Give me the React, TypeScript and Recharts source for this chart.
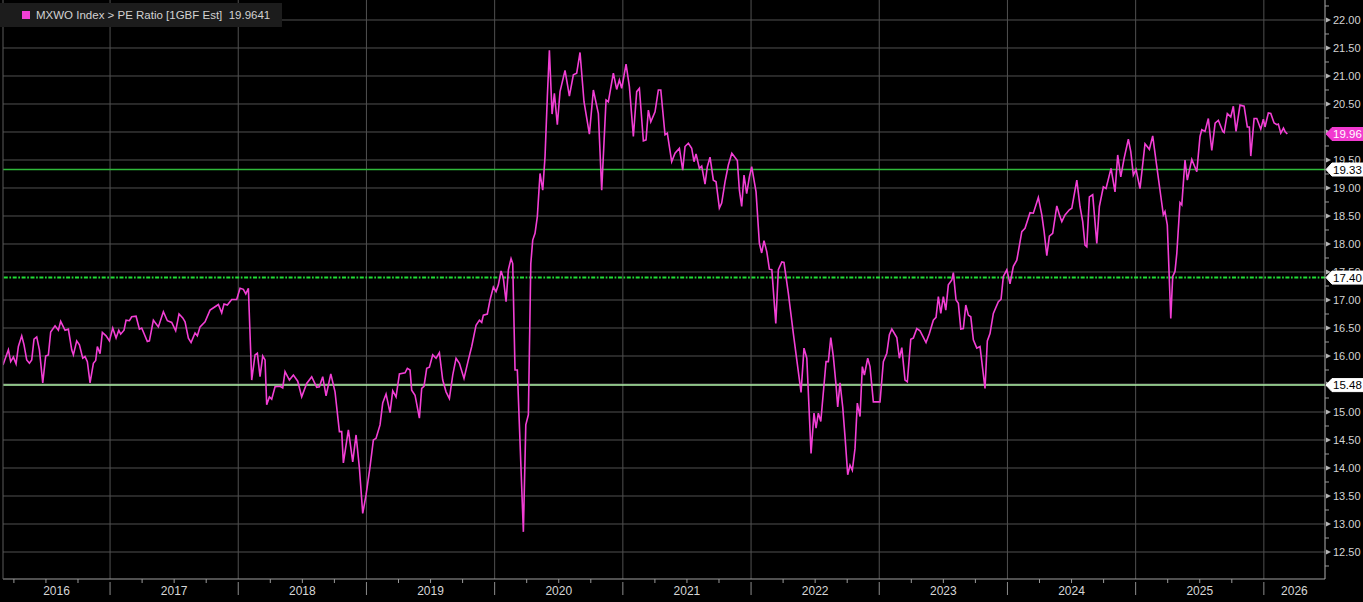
import React from 'react';
import { LineChart, Line, XAxis, YAxis, CartesianGrid, ReferenceLine } from 'recharts';

// ---------- data (decimal year, PE ratio) ----------
const dates2016 = [2016.165,2016.207,2016.225,2016.246,2016.267,2016.285,2016.311,2016.329,2016.350,2016.371,
  2016.389,2016.407,2016.428,2016.449,2016.475,2016.498,2016.519,2016.537,2016.571,2016.597,
  2016.615,2016.649,2016.675,2016.701,2016.714,2016.740,2016.761,2016.787,2016.805,2016.823,
  2016.844,2016.870,2016.888,2016.901,2016.922,2016.940,2016.969,2016.995];
const pe2016 = [15.84,16.11,15.90,15.98,15.86,16.17,16.36,16.20,15.93,15.87,
  15.93,16.30,16.34,16.11,15.52,16.00,16.02,16.43,16.54,16.46,
  16.62,16.46,16.48,16.11,16.02,16.27,16.20,15.96,15.99,15.90,
  15.52,15.87,15.92,16.17,16.04,16.42,16.36,16.27];

const dates2017 = [2017.021,2017.047,2017.068,2017.083,2017.109,2017.125,2017.151,2017.169,2017.203,2017.229,
  2017.247,2017.291,2017.307,2017.338,2017.377,2017.416,2017.447,2017.481,2017.512,2017.538,
  2017.567,2017.585,2017.611,2017.632,2017.663,2017.681,2017.702,2017.741,2017.780,2017.819,
  2017.845,2017.871,2017.889,2017.915,2017.949,2017.988];
const pe2017 = [16.50,16.32,16.46,16.39,16.46,16.64,16.63,16.70,16.71,16.48,
  16.50,16.26,16.27,16.64,16.52,16.79,16.63,16.60,16.45,16.75,
  16.68,16.61,16.32,16.24,16.41,16.36,16.52,16.61,16.82,16.88,
  16.92,16.77,16.93,16.91,17.01,17.01];

const dates2018 = [2018.014,2018.040,2018.059,2018.079,2018.105,2018.131,2018.149,2018.170,2018.191,2018.209,
  2018.222,2018.243,2018.261,2018.287,2018.326,2018.347,2018.365,2018.399,2018.430,2018.464,
  2018.495,2018.534,2018.573,2018.612,2018.633,2018.659,2018.685,2018.722,2018.755,2018.789,
  2018.807,2018.820,2018.859,2018.893,2018.919,2018.945,2018.971,2018.997];
const pe2018 = [17.21,17.19,17.11,17.21,15.57,16.02,16.05,15.63,16.00,15.93,
  15.13,15.27,15.23,15.45,15.46,15.43,15.72,15.57,15.66,15.55,
  15.27,15.51,15.63,15.44,15.45,15.63,15.29,15.68,15.36,14.65,
  14.65,14.09,14.68,14.11,14.59,14.00,13.19,13.52];

const dates2019 = [2019.028,2019.054,2019.075,2019.106,2019.127,2019.153,2019.184,2019.205,2019.231,2019.257,
  2019.301,2019.319,2019.340,2019.353,2019.379,2019.413,2019.431,2019.449,2019.470,2019.491,
  2019.517,2019.543,2019.569,2019.595,2019.621,2019.647,2019.673,2019.699,2019.725,2019.761,
  2019.795,2019.821,2019.855,2019.881,2019.899,2019.912,2019.943,2019.964,2019.990];
const pe2019 = [14.02,14.50,14.53,14.77,15.16,15.32,14.99,15.38,15.27,15.68,
  15.70,15.78,15.75,15.39,15.30,14.89,15.42,15.46,15.78,15.80,
  16.02,15.96,16.06,15.57,15.36,15.24,15.66,15.96,15.87,15.60,
  15.93,16.17,16.55,16.64,16.60,16.73,16.75,17.00,17.23];

const dates2020 = [2020.011,2020.029,2020.050,2020.068,2020.089,2020.107,2020.128,2020.141,2020.159,2020.177,
  2020.224,2020.243,2020.263,2020.282,2020.297,2020.315,2020.333,2020.354,2020.375,2020.393,
  2020.411,2020.427,2020.448,2020.466,2020.489,2020.510,2020.549,2020.583,2020.614,2020.640,
  2020.666,2020.697,2020.739,2020.770,2020.809,2020.835,2020.869,2020.887,2020.926,2020.952,
  2020.973,2020.991];
const pe2020 = [17.15,17.27,17.52,17.39,16.97,17.54,17.74,17.65,15.75,15.75,
  12.86,14.77,14.95,17.65,18.07,18.19,18.49,19.26,18.96,19.56,
  20.63,21.46,20.32,20.69,20.13,20.72,21.10,20.64,21.02,21.05,
  21.42,20.54,19.96,20.75,20.33,18.96,20.57,20.54,21.05,20.76,
  20.93,20.78];

const dates2021 = [2021.025,2021.051,2021.082,2021.108,2021.129,2021.160,2021.181,2021.199,2021.218,2021.251,
  2021.277,2021.296,2021.329,2021.347,2021.381,2021.407,2021.441,2021.467,2021.485,2021.511,
  2021.537,2021.555,2021.571,2021.597,2021.615,2021.641,2021.659,2021.680,2021.706,2021.727,
  2021.753,2021.771,2021.797,2021.823,2021.850,2021.893,2021.909,2021.927,2021.945,2021.966,
  2021.987];
const pe2021 = [21.21,20.81,19.92,20.72,20.78,19.84,19.86,20.39,20.18,20.36,
  20.75,20.75,19.95,19.98,19.47,19.62,19.71,19.32,19.74,19.80,
  19.71,19.47,19.61,19.35,19.39,19.07,19.38,19.55,19.14,19.11,
  18.64,18.73,19.11,19.41,19.62,19.49,18.96,18.67,19.23,18.90,
  19.20];

const dates2022 = [2022.005,2022.039,2022.065,2022.083,2022.101,2022.123,2022.143,2022.162,2022.193,2022.213,
  2022.240,2022.257,2022.291,2022.330,2022.390,2022.413,2022.435,2022.468,2022.491,2022.507,
  2022.525,2022.544,2022.585,2022.603,2022.622,2022.642,2022.663,2022.676,2022.694,2022.715,
  2022.733,2022.754,2022.772,2022.790,2022.811,2022.829,2022.850,2022.868,2022.884,2022.910,
  2022.928,2022.954];
const pe2022 = [19.38,18.93,18.01,17.84,18.06,17.86,17.55,17.54,16.58,17.54,
  17.68,17.67,17.12,16.40,15.35,16.14,15.96,14.26,14.98,14.71,
  14.98,14.83,15.90,15.90,16.33,15.99,15.48,15.09,15.52,15.09,
  14.56,13.88,14.05,13.96,14.35,15.16,14.92,15.81,15.66,15.96,
  15.81,15.18];

const dates2023 = [2023.006,2023.032,2023.059,2023.079,2023.098,2023.137,2023.157,2023.176,2023.201,2023.219,
  2023.246,2023.266,2023.293,2023.318,2023.365,2023.391,2023.422,2023.443,2023.461,2023.480,
  2023.500,2023.519,2023.539,2023.566,2023.578,2023.599,2023.617,2023.636,2023.656,2023.675,
  2023.695,2023.714,2023.734,2023.761,2023.786,2023.825,2023.843,2023.864,2023.890,2023.929,
  2023.950,2023.968,2023.995];
const pe2023 = [15.18,15.90,16.05,16.38,16.48,16.33,15.96,16.15,15.57,15.54,
  16.30,16.32,16.49,16.45,16.24,16.40,16.64,16.69,17.06,16.76,
  17.06,16.82,17.27,17.36,17.49,17.00,16.94,16.48,16.49,16.91,
  16.73,16.70,16.29,16.14,16.17,15.42,16.27,16.40,16.76,16.97,
  17.01,17.42,17.54];

const dates2024 = [2024.020,2024.046,2024.073,2024.112,2024.137,2024.176,2024.202,2024.241,2024.268,2024.286,
  2024.307,2024.327,2024.353,2024.385,2024.405,2024.424,2024.449,2024.483,2024.502,2024.541,
  2024.566,2024.587,2024.605,2024.619,2024.639,2024.665,2024.697,2024.717,2024.748,2024.769,
  2024.808,2024.839,2024.860,2024.884,2024.910,2024.943,2024.962,2024.982];
const pe2024 = [17.29,17.60,17.71,18.22,18.28,18.56,18.55,18.83,18.52,18.22,
  17.79,18.14,18.19,18.68,18.52,18.40,18.52,18.61,18.64,19.14,
  18.67,18.40,17.98,17.95,18.84,18.88,18.01,18.67,19.02,18.99,
  19.35,18.93,19.59,19.20,19.53,19.87,19.65,19.23];

const dates2025 = [2025.003,2025.034,2025.073,2025.107,2025.133,2025.165,2025.190,2025.216,2025.229,2025.247,
  2025.274,2025.289,2025.307,2025.321,2025.346,2025.360,2025.385,2025.403,2025.438,2025.477,
  2025.502,2025.516,2025.541,2025.567,2025.594,2025.620,2025.645,2025.680,2025.690,2025.715,
  2025.742,2025.762,2025.783,2025.814,2025.846,2025.871,2025.887,2025.898,2025.924,2025.945,
  2025.976,2025.996];
const pe2025 = [19.33,18.99,19.79,19.69,19.93,19.38,18.96,18.52,18.58,18.34,
  16.67,17.42,17.51,17.83,18.74,18.70,19.50,19.14,19.51,19.29,
  19.92,20.04,20.01,20.24,19.67,20.16,20.21,20.01,19.99,20.33,
  20.27,20.46,20.01,20.48,20.46,20.09,20.09,19.57,20.24,20.24,
  20.05,20.23];

const dates2026 = [2026.009,2026.035,2026.054,2026.080,2026.101,2026.113,2026.132,2026.153,2026.165,2026.183];
const pe2026 = [20.09,20.34,20.33,20.16,20.13,20.14,19.98,20.07,20.01,19.9641];

// ---------- axes / labels ----------
const seriesName = 'MXWO Index > PE Ratio [1GBF Est]';
const yearLabels = ['2016','2017','2018','2019','2020','2021','2022','2023','2024','2025','2026'];
const yearBoundaries = [2017,2018,2019,2020,2021,2022,2023,2024,2025,2026];
const yMajorTicks = [12.5,13,13.5,14,14.5,15,15.5,16,16.5,17,17.5,18,18.5,19,19.5,20,20.5,21,21.5,22];
const referenceLevels = [19.33, 17.40, 15.48];

const X_DOMAIN: [number, number] = [2016.165, 2026.477];
const Y_DOMAIN: [number, number] = [12.018, 22.357];

const allDates = [...dates2016,...dates2017,...dates2018,...dates2019,...dates2020,...dates2021,...dates2022,...dates2023,...dates2024,...dates2025,...dates2026];
const allPe = [...pe2016,...pe2017,...pe2018,...pe2019,...pe2020,...pe2021,...pe2022,...pe2023,...pe2024,...pe2025,...pe2026];
const data = allDates.map((t, i) => ({ t, pe: allPe[i] }));
const lastValue = allPe[allPe.length - 1];

const firstYear = 2016;
const quarterTicks: number[] = [];
for (let yr = firstYear; yr < 2026; yr++) { quarterTicks.push(yr + 0.25, yr + 0.5, yr + 0.75); }
const firstLabelPos = (X_DOMAIN[0] + yearBoundaries[0]) / 2;
const lastLabelPos = (yearBoundaries[yearBoundaries.length - 1] + X_DOMAIN[1]) / 2;
const xTicks = [...quarterTicks, ...yearBoundaries, firstLabelPos, lastLabelPos].sort((a, b) => a - b);
const yMinorTicks = [...yMajorTicks.map(v => v - 0.25), 22.25];
// tags are appended last so they are painted over the regular tick labels
const tagValues = [...referenceLevels, lastValue];
const yTicks = [...[...yMinorTicks, ...yMajorTicks].sort((a, b) => a - b), ...tagValues];

const FONT = '"Liberation Sans", Arial, sans-serif';
const LINE_COLOR = '#f23fd4';
const TAG_MAGENTA = '#f23ad0';
const GRID = '#505050';

const XTick = (props: any) => {
  const { x, y, payload } = props;
  const v: number = payload.value;
  const frac = v - Math.floor(v);
  const isYear = Math.abs(frac) < 1e-6;
  if (isYear) return <line x1={x} y1={y + 3} x2={x} y2={y + 16} stroke="#8c8c8c" strokeWidth={1} />;
  const isQuarter = [0.25, 0.5, 0.75].some(q => Math.abs(frac - q) < 1e-6);
  const yr = Math.floor(v);
  const showLabel = !isQuarter || (Math.abs(frac - 0.5) < 1e-6 && yr > firstYear);
  return (
    <g>
      {isQuarter && <line x1={x} y1={y} x2={x} y2={y + 4} stroke="#9a9a9a" strokeWidth={1} />}
      {showLabel && (
        <text x={x} y={y + 16} textAnchor="middle" fontSize={12} fontFamily={FONT} fill="#d6d6d6">
          {yearLabels[yr - firstYear]}
        </text>
      )}
    </g>
  );
};

const YTick = (props: any) => {
  const { x, y, payload, index } = props;
  const v: number = payload.value;
  const tagIdx = index >= yTicks.length - tagValues.length ? index - (yTicks.length - tagValues.length) : -1;
  if (tagIdx >= 0) {
    const isLast = tagIdx === tagValues.length - 1;
    const fill = isLast ? TAG_MAGENTA : '#ffffff';
    const color = isLast ? '#ffffff' : '#000000';
    return (
      <g>
        <path
          d={`M${x + 1},${y} L${x + 7},${y - 6.5} L${x + 38},${y - 6.5} L${x + 38},${y + 6.5} L${x + 7},${y + 6.5} Z`}
          fill={fill}
          stroke={fill}
          strokeLinejoin="round"
        />
        <text x={x + 8} y={y + 4} fontSize={11.5} fontFamily={FONT} fill={color}>{v.toFixed(2)}</text>
      </g>
    );
  }
  const major = Math.abs(v * 2 - Math.round(v * 2)) < 1e-6;
  if (!major) return <line x1={x} y1={y} x2={x + 4} y2={y} stroke="#9a9a9a" strokeWidth={1} />;
  return (
    <g>
      <path d={`M${x + 1},${y - 2.5} L${x + 6},${y} L${x + 1},${y + 2.5} Z`} fill="#b5b5b5" />
      <text x={x + 8} y={y + 4} fontSize={11} fontFamily={FONT} fill="#d4d4d4">{v.toFixed(2)}</text>
    </g>
  );
};

const refStyles = [
  { stroke: '#2fb83a', dash: undefined as string | undefined, width: 1.5 },
  { stroke: '#22dd36', dash: '4 1.6 1.7 1.6', width: 2 },
  { stroke: '#b2f4aa', dash: undefined as string | undefined, width: 1.5 },
];

export default function App() {
  return (
    <div style={{ position: 'absolute', left: 0, top: 0, width: 1363, height: 602, background: '#000', overflow: 'hidden' }}>
      <LineChart width={1363} height={602} data={data} margin={{ top: 0, right: 0, bottom: 0, left: 0 }}>
        <CartesianGrid
          xAxisId={0}
          yAxisId="r"
          stroke={GRID}
          strokeWidth={1}
          horizontalValues={yMajorTicks}
          verticalValues={yearBoundaries}
        />
        <XAxis
          xAxisId={0}
          dataKey="t"
          type="number"
          domain={X_DOMAIN}
          allowDataOverflow
          ticks={xTicks}
          interval={0}
          tick={<XTick />}
          tickLine={false}
          tickSize={0}
          tickMargin={0}
          height={23}
          axisLine={{ stroke: '#a0a0a0', strokeWidth: 1 }}
        />
        <YAxis
          yAxisId="l"
          orientation="left"
          type="number"
          domain={Y_DOMAIN}
          allowDataOverflow
          width={3}
          tick={false}
          tickLine={false}
          axisLine={{ stroke: '#5a5a5a', strokeWidth: 1 }}
        />
        <YAxis
          yAxisId="r"
          orientation="right"
          type="number"
          domain={Y_DOMAIN}
          allowDataOverflow
          ticks={yTicks}
          interval={0}
          tick={<YTick />}
          tickLine={false}
          tickSize={0}
          tickMargin={0}
          width={38}
          axisLine={{ stroke: '#b0b0b0', strokeWidth: 1 }}
        />
        {referenceLevels.map((lvl, i) => (
          <ReferenceLine
            key={lvl}
            yAxisId="r"
            y={lvl}
            stroke={refStyles[i].stroke}
            strokeWidth={refStyles[i].width}
            strokeDasharray={refStyles[i].dash}
          />
        ))}
        <Line
          yAxisId="r"
          type="linear"
          dataKey="pe"
          stroke={LINE_COLOR}
          strokeWidth={1.6}
          dot={false}
          isAnimationActive={false}
        />
      </LineChart>
      <div
        style={{
          position: 'absolute', left: 0, top: 3, width: 282, height: 24, background: '#1c1c1c',
          display: 'flex', alignItems: 'center', fontFamily: FONT, fontSize: 11.5, color: '#d2d2d2', whiteSpace: 'pre',
        }}
      >
        <span style={{ display: 'inline-block', width: 8, height: 8, background: LINE_COLOR, marginLeft: 22, marginRight: 6 }} />
        <span>{`${seriesName}  ${lastValue.toFixed(4)}`}</span>
      </div>
    </div>
  );
}
